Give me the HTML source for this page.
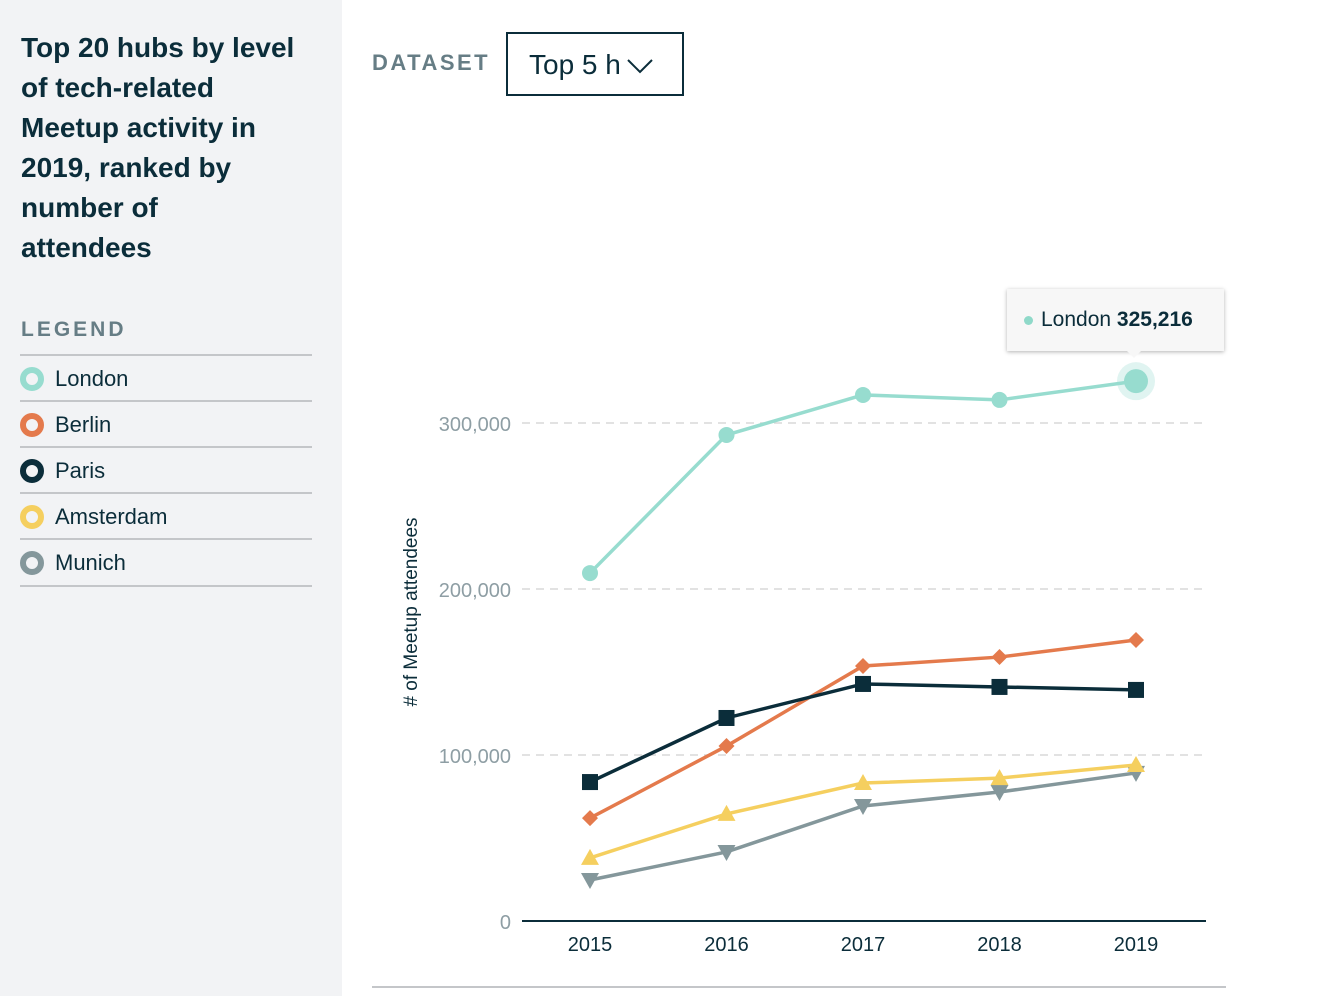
<!DOCTYPE html>
<html><head><meta charset="utf-8"><style>
body{margin:0;width:1336px;height:996px;background:#fff;font-family:"Liberation Sans",sans-serif;color:#0b2d3a;overflow:hidden;position:relative}
#side{position:absolute;left:0;top:0;width:342px;height:996px;background:#f2f3f5}
#title{position:absolute;left:21px;top:28px;width:320px;font-size:28px;font-weight:bold;line-height:40px;color:#0b2d3a;white-space:nowrap}
#leg-h{position:absolute;left:21px;top:318px;font-size:21px;letter-spacing:3px;color:#667d85;font-weight:bold}
.li{position:absolute;left:20px;width:292px;height:45px;border-top:2px solid #c4c6c9;font-size:22px;line-height:45px}
.li span.d{position:absolute;left:0;top:11px;width:12px;height:12px;border-radius:50%;border:6px solid;background:#f2f3f5}
.li span.t{position:absolute;left:35px}
#ds{position:absolute;left:372px;top:50px;font-size:22px;letter-spacing:2.5px;color:#667d85;font-weight:bold}
#sel{position:absolute;left:506px;top:32px;border:2px solid #0b2d3a;font-size:28px;line-height:62px;padding-left:21px;box-sizing:border-box;width:178px;height:64px}
#tip{position:absolute;left:1007px;top:289px;width:217px;height:62px;background:#f7f7f7;box-shadow:0 1px 4px rgba(0,0,0,.3);font-size:21px;line-height:62px;box-sizing:border-box;padding-left:34px}
#tip i{position:absolute;left:17px;top:27px;width:9px;height:9px;border-radius:50%;background:#8fd9c9}
#tip:after{content:"";position:absolute;left:118px;top:60px;border:9px solid transparent;border-top-color:#f7f7f7}
</style></head><body>
<div id="side">
<div id="title">Top 20 hubs by level<br>of tech-related<br>Meetup activity in<br>2019, ranked by<br>number of<br>attendees</div>
<div id="leg-h">LEGEND</div>
<div class="li" style="top:354px"><span class="d" style="border-color:#97dccf"></span><span class="t">London</span></div>
<div class="li" style="top:400px"><span class="d" style="border-color:#e47a4c"></span><span class="t">Berlin</span></div>
<div class="li" style="top:446px"><span class="d" style="border-color:#0b2d3a"></span><span class="t">Paris</span></div>
<div class="li" style="top:492px"><span class="d" style="border-color:#f5cf5f"></span><span class="t">Amsterdam</span></div>
<div class="li" style="top:538px;height:45px;border-bottom:2px solid #c4c6c9"><span class="d" style="border-color:#84979b"></span><span class="t">Munich</span></div>
</div>
<div id="ds">DATASET</div>
<div id="sel">Top 5 h<svg width="28" height="16" style="position:absolute;left:118px;top:24px"><polyline points="2,2 14,14 26,2" fill="none" stroke="#0b2d3a" stroke-width="2"/></svg></div>
<svg id="chart" width="1336" height="996" style="position:absolute;left:0;top:0"></svg>
<div id="tip"><i></i>London <b>325,216</b></div>
<script>
const years=[2015,2016,2017,2018,2019];
const yTicks=[0,100000,200000,300000];
const london=[209600,292800,316900,313900,325216];
const berlin=[62000,105400,153600,159000,169300];
const paris=[83700,122300,142800,141000,139200];
const amsterdam=[38000,64500,83100,86100,94000];
const munich=[24700,41600,69300,77700,89200];
const NS="http://www.w3.org/2000/svg",svg=document.getElementById('chart');
const x=i=>590+i*136.5, y=v=>921-v*166/100000;
function mk(t,a){const e=document.createElementNS(NS,t);for(const k in a)e.setAttribute(k,a[k]);svg.appendChild(e);return e;}
yTicks.forEach(v=>{
 if(v>0){const l=mk('line',{x1:522,x2:1206,y1:y(v),y2:y(v),stroke:'#d8d8d8','stroke-dasharray':'8,6','stroke-width':1.5});
 
 }
 const t=mk('text',{x:511,y:y(v)+8,'text-anchor':'end','font-size':20,fill:'#8e9ea4','font-family':'Liberation Sans'});t.textContent=v.toLocaleString('en-US');
 
 
});
const ax=mk('line',{x1:522,x2:1206,y1:921,y2:921,stroke:'#0b2d3a','stroke-width':2});


years.forEach((yr,i)=>{const t=mk('text',{x:x(i),y:951,'text-anchor':'middle','font-size':20,fill:'#0b2d3a','font-family':'Liberation Sans'});t.textContent=yr;
 
 });
const yt=mk('text',{transform:'translate(417,612) rotate(-90)','text-anchor':'middle','font-size':19,fill:'#0b2d3a','font-family':'Liberation Sans'});yt.textContent='# of Meetup attendees';


const bl=mk('line',{x1:372,x2:1226,y1:987,y2:987,stroke:'#c4c6c9','stroke-width':2});


function series(name,vals,col,shape){
 const p=mk('polyline',{points:vals.map((v,i)=>x(i)+','+y(v)).join(' '),fill:'none',stroke:col,'stroke-width':3.5});
 
 
 vals.forEach((v,i)=>{const cx=x(i),cy=y(v);let m;
  if(shape==='c')m=mk('circle',{cx,cy,r:8,fill:col});
  else if(shape==='d')m=mk('polygon',{points:`${cx},${cy-8} ${cx+8},${cy} ${cx},${cy+8} ${cx-8},${cy}`,fill:col});
  else if(shape==='s')m=mk('rect',{x:cx-8,y:cy-8,width:16,height:16,fill:col});
  else if(shape==='u')m=mk('polygon',{points:`${cx},${cy-9} ${cx+9},${cy+7} ${cx-9},${cy+7}`,fill:col});
  else m=mk('polygon',{points:`${cx},${cy+9} ${cx+9},${cy-7} ${cx-9},${cy-7}`,fill:col});
  
  });
}
const hl=mk('circle',{cx:x(4),cy:y(london[4]),r:19,fill:'#97dccf',opacity:0.3});


series('london',london,'#97dccf','c');
const big=mk('circle',{cx:x(4),cy:y(london[4]),r:12,fill:'#97dccf'});


series('munich',munich,'#84979b','v');
series('amsterdam',amsterdam,'#f5cf5f','u');
series('berlin',berlin,'#e47a4c','d');
series('paris',paris,'#0b2d3a','s');
</script>
</body></html>
